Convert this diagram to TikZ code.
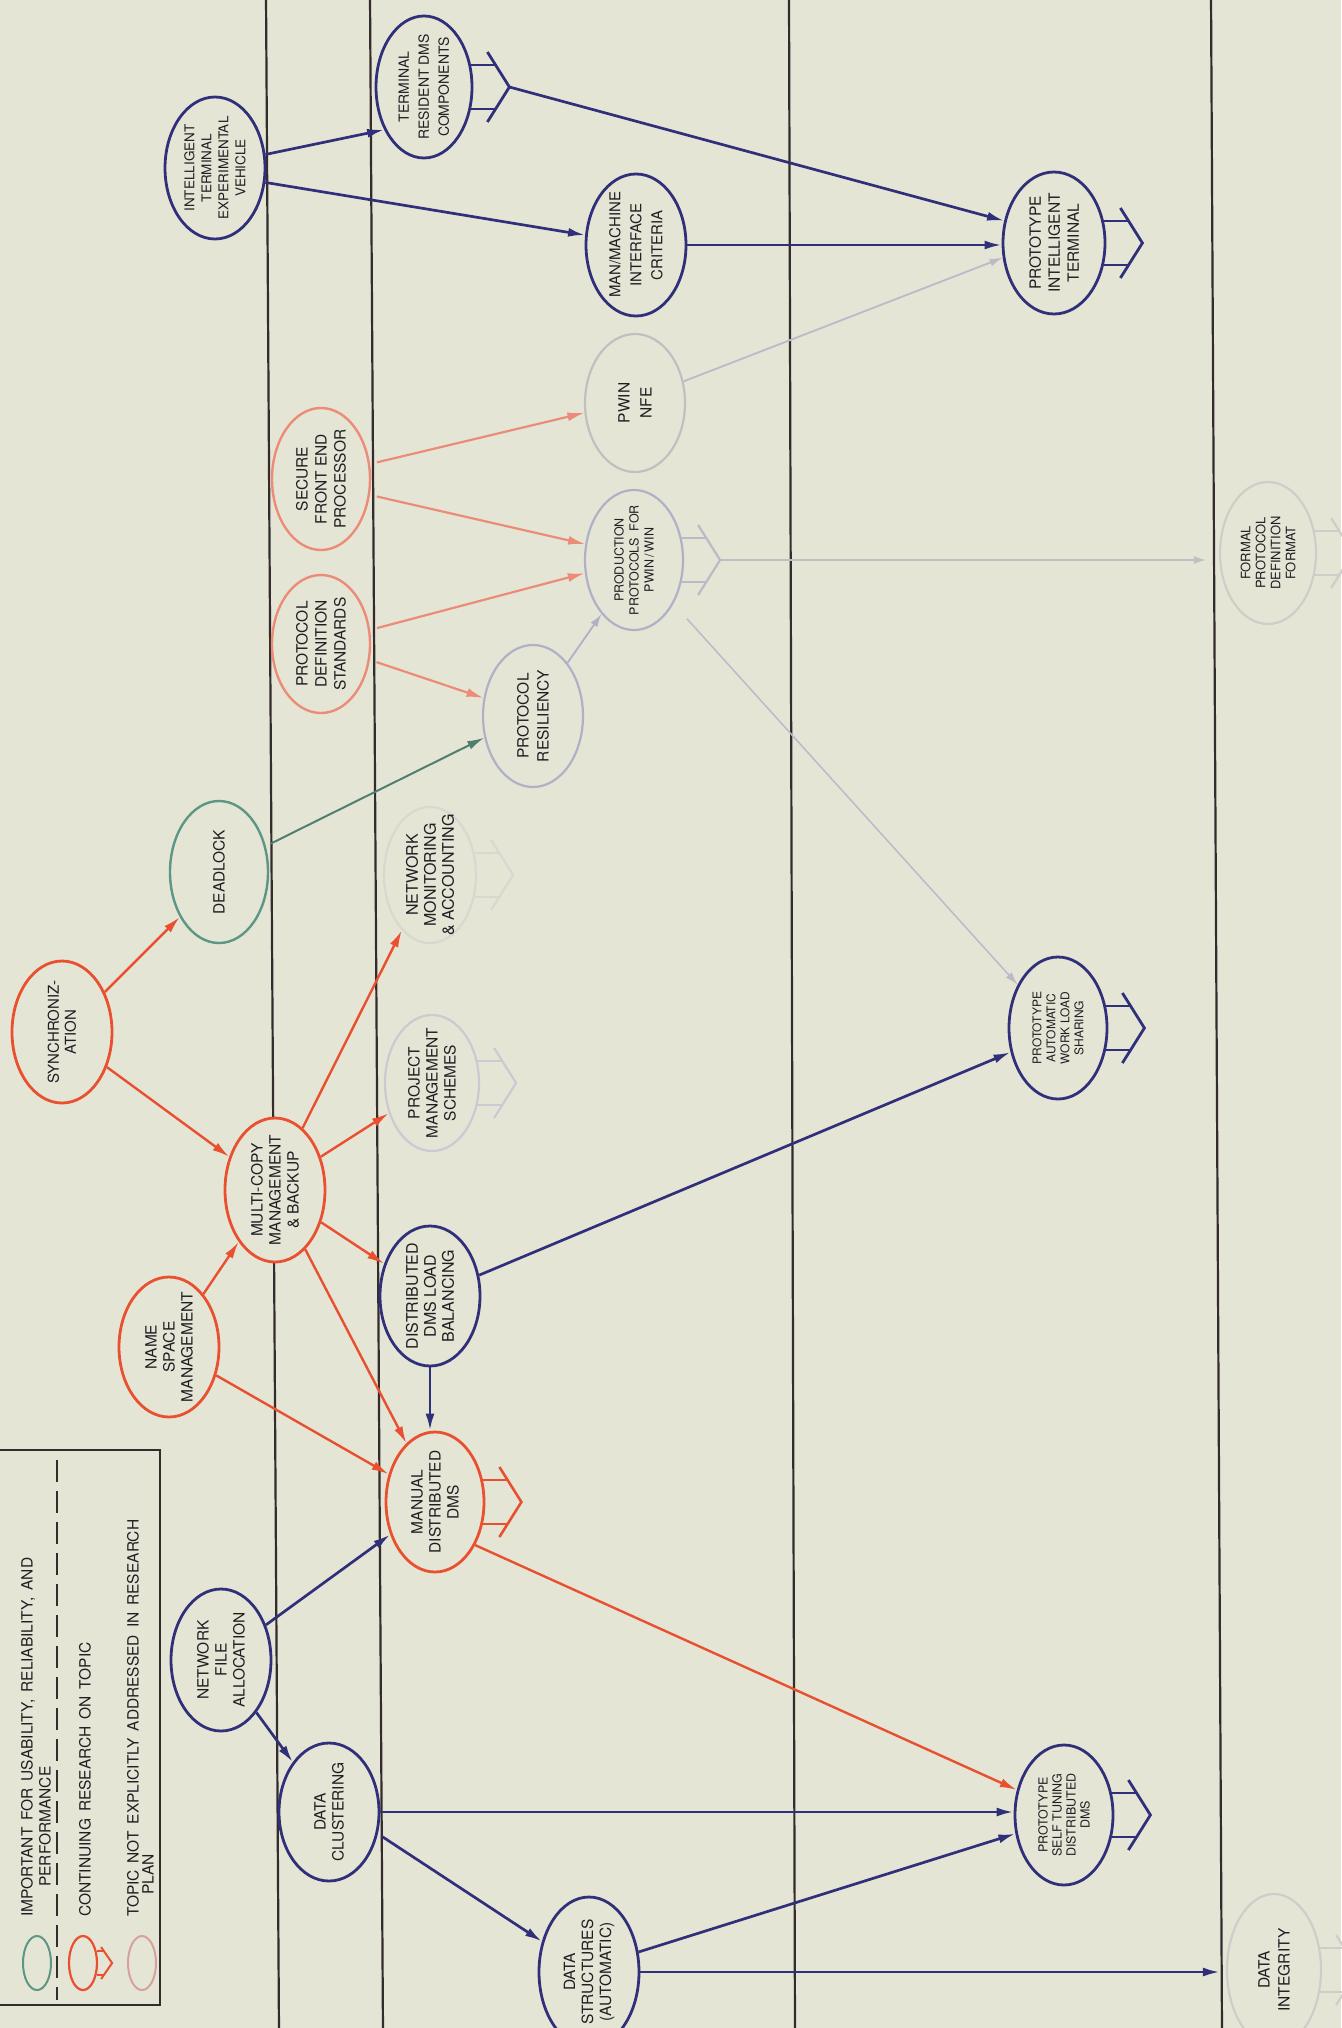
\documentclass[tikz,border=0pt]{standalone}
\usepackage{fontspec}
\setmainfont{TeX Gyre Heros}
\newfontfamily\legfont[WordSpace=1.6]{TeX Gyre Heros}
\usetikzlibrary{shapes.geometric, arrows.meta, calc}
\pgfdeclarelayer{back}
\pgfsetlayers{back,main}

\definecolor{paper}{RGB}{229,229,214}
\definecolor{rulecol}{RGB}{52,44,44}
\definecolor{ink}{RGB}{30,30,35}
\definecolor{navy}{RGB}{48,48,122}
\definecolor{vermil}{RGB}{232,80,48}
\definecolor{salmon}{RGB}{236,140,120}
\definecolor{dlgreen}{RGB}{92,150,132}
\definecolor{lav}{RGB}{176,176,198}
\definecolor{ghostA}{RGB}{192,192,194}
\definecolor{ghostB}{RGB}{206,206,200}
\definecolor{ghostC}{RGB}{216,216,208}
\definecolor{ghostD}{RGB}{202,202,210}
\definecolor{ghostline}{RGB}{186,186,200}
\definecolor{pinkleg}{RGB}{214,160,160}

\tikzset{
  topic/.style={ellipse, draw, line width=2.8pt, fill=paper, inner sep=0pt},
  lbl/.style={rotate=90, align=center, text=ink, inner sep=0pt,
    font=\fontsize{15.5}{19}\selectfont},
  legtext/.style={rotate=90, inner sep=0pt, text=ink,
    font=\legfont\fontsize{15.5}{18}\selectfont},
  arr/.style={line width=2.7pt, -{Latex[length=17pt,width=9pt]}},
  barr/.style={arr, navy},
  rarr/.style={arr, vermil, line width=2.4pt},
  parr/.style={arr, salmon, line width=2.2pt, shorten <=7pt},
  farr/.style={line width=1.8pt, ghostline, -{Latex[length=13pt,width=8pt]}},
  rulefirm/.style={rulecol, line width=2.2pt},
}

% an ellipse topic with its rotated caption
\newcommand\topic[7]{%
  \node[topic, minimum width=#3, minimum height=#4, #5] (#1) at #2 {};
  \node[lbl, #6] (#1-t) at (#1) {#7};
}
% the "continuing research" mark on the right of a topic
\newcommand\goon[2]{%
  \draw[#2, line join=miter] ($(#1.east)+(14,-35)$) -- ($(#1.east)+(36,0)$)
    coordinate (#1-tip) -- ($(#1.east)+(14,35)$);
  \draw[#2] ($(#1.east)+(-3,-22)$) -- ($(#1.east)+(22,-22)$);
  \draw[#2] ($(#1.east)+(-3,22)$) -- ($(#1.east)+(22,22)$);
}

\begin{document}
\begin{tikzpicture}[x=1pt, y=-1pt]
\useasboundingbox (0,0) rectangle (1341,2028);

% ---------------- topics ----------------
\topic{itev}{(215,168)}{100}{142}{draw=navy}{font=\fontsize{13.5}{17}\selectfont}{INTELLIGENT\\TERMINAL\\EXPERIMENTAL\\VEHICLE}
\topic{trdc}{(424,87)}{96}{142}{draw=navy}{font=\fontsize{14}{20}\selectfont}{TERMINAL\\RESIDENT DMS\\COMPONENTS}
\topic{mmic}{(636,245)}{100}{142}{draw=navy}{font=\fontsize{15}{21}\selectfont}{MAN/MACHINE\\INTERFACE\\CRITERIA}
\topic{pit}{(1054,243)}{102}{142}{draw=navy}{}{PROTOTYPE\\INTELLIGENT\\TERMINAL}
\topic{sfep}{(321,479)}{98}{142}{draw=salmon, line width=2.4pt}{}{SECURE\\FRONT END\\PROCESSOR}
\topic{pds}{(321,644)}{98}{138}{draw=salmon, line width=2.4pt}{}{PROTOCOL\\DEFINITION\\STANDARDS}
\topic{pwin}{(635,403)}{100}{138}{draw=ghostA, line width=2.2pt}{font=\fontsize{15.5}{22}\selectfont}{PWIN\\NFE}
\topic{pppw}{(634,560)}{98}{140}{draw=lav, line width=2.2pt}{font=\fontsize{12.5}{15}\selectfont}{PRODUCTION\\PROTOCOLS\ \ FOR\\PWIN\,/\,WIN}
\topic{pr}{(533,716)}{100}{142}{draw=lav, line width=2.2pt}{font=\fontsize{15.5}{20}\selectfont}{PROTOCOL\\RESILIENCY}
\topic{fpdf}{(1268,553)}{96}{142}{draw=ghostB, line width=2.2pt}{font=\fontsize{13}{15}\selectfont}{FORMAL\\PROTOCOL\\DEFINITION\\FORMAT}
\topic{dead}{(219,872)}{98}{142}{draw=dlgreen, line width=2.4pt}{}{DEADLOCK}
\topic{sync}{(62,1032)}{100}{142}{draw=vermil}{font=\fontsize{15}{17}\selectfont}{SYNCHRONIZ-\\ATION}
\topic{nma}{(430,875)}{92}{136}{draw=ghostC, line width=2.2pt}{font=\fontsize{16}{18}\selectfont}{NETWORK\\MONITORING\\\& ACCOUNTING}
\topic{pms}{(432,1083)}{94}{136}{draw=ghostD, line width=2.2pt}{font=\fontsize{15.5}{18}\selectfont}{PROJECT\\MANAGEMENT\\SCHEMES}
\topic{mcmb}{(275,1190)}{100}{144}{draw=vermil}{font=\fontsize{15.5}{18}\selectfont}{MULTI-COPY\\MANAGEMENT\\\& BACKUP}
\topic{nsm}{(169,1347)}{100}{140}{draw=vermil}{font=\fontsize{15.5}{18}\selectfont}{NAME\\SPACE\\MANAGEMENT}
\topic{ddlb}{(430,1296)}{100}{140}{draw=navy}{font=\fontsize{16}{18}\selectfont}{DISTRIBUTED\\DMS LOAD\\BALANCING}
\topic{mdd}{(435,1502)}{98}{140}{draw=vermil}{font=\fontsize{15.5}{18}\selectfont}{MANUAL\\DISTRIBUTED\\DMS}
\topic{pawls}{(1058,1028)}{98}{142}{draw=navy}{font=\fontsize{12}{14}\selectfont}{PROTOTYPE\\AUTOMATIC\\WORK LOAD\\SHARING}
\topic{nfa}{(221,1660)}{100}{142}{draw=navy}{font=\fontsize{15.5}{18}\selectfont}{NETWORK\\FILE\\ALLOCATION}
\topic{dc}{(329,1812)}{100}{138}{draw=navy}{font=\fontsize{15.5}{18}\selectfont}{DATA\\CLUSTERING}
\topic{ds}{(589,1972)}{100}{150}{draw=navy}{font=\fontsize{15.5}{18}\selectfont}{DATA\\STRUCTURES\\(AUTOMATIC)}
\topic{pstdd}{(1064,1815)}{98}{140}{draw=navy}{font=\fontsize{12.5}{14}\selectfont}{PROTOTYPE\\SELF TUNING\\DISTRIBUTED\\DMS}
\topic{di}{(1274,1970)}{94}{152}{draw=ghostB, line width=2.2pt}{font=\fontsize{15.5}{20}\selectfont}{DATA\\INTEGRITY}

% ---------------- continuing-research marks ----------------
\goon{trdc}{navy, line width=2.8pt}
\goon{pit}{navy, line width=2.8pt}
\goon{mdd}{vermil, line width=2.6pt}
\goon{pawls}{navy, line width=2.8pt}
\goon{pstdd}{navy, line width=2.8pt}
\goon{pppw}{ghostline, line width=2.2pt}
\goon{pms}{ghostD, line width=2.2pt}
\goon{nma}{ghostC, line width=2.2pt}
\goon{fpdf}{ghostB, line width=2.2pt}
\goon{di}{ghostB, line width=2.2pt}

% ---------------- connectors ----------------
\draw[barr] (itev.15) -- (trdc.227);
\draw[barr] (itev.344) -- (mmic.169);
\draw[barr] (trdc-tip) -- (pit.156);
\draw[barr] (mmic.east) -- (pit.west |- mmic.east);
\draw[farr] (pwin.24) -- (pit.196);

\draw[parr] (sfep.17) -- (pwin.191);
\draw[parr] (sfep.342) -- (pppw.162);
\draw[parr] (pds.16) -- (pppw.195);
\draw[parr] (pds.342) -- (pr.160);
\draw[farr, lav] (pr.57) -- (pppw.239);
\draw[arr, line width=2pt, dlgreen!85!black, shorten <=5pt] (dead.29) -- (pr.204);
\draw[farr, line width=1.5pt, shorten <=20pt] (pppw.312) -- (pawls.133);
\draw[farr, line width=2.4pt, ghostA, shorten >=12pt] (pppw-tip) -- (pppw-tip -| fpdf.west);

\draw[rarr] (sync.43) -- (dead.229);
\draw[rarr] (sync.322) -- (mcmb.144);
\draw[rarr] (mcmb.66) -- (nma.243);
\draw[rarr] (mcmb.36) -- (pms.215);
\draw[rarr] (nsm.57) -- (mcmb.235);
\draw[rarr] (mcmb.325) -- (ddlb.145);
\draw[rarr] (mcmb.297) -- (mdd.116);
\draw[rarr] (nsm.329) -- (mdd.149);
\draw[barr] (ddlb.23) -- (pawls.207);
\draw[barr] (ddlb.south) -- (ddlb.south |- mdd.north);

\draw[barr] (nfa.38) -- (mdd.216);
\draw[barr] (nfa.304) -- (dc.126);
\draw[barr] (dc.east) -- (pstdd.west |- dc.east);
\draw[barr, shorten <=4pt] (dc.336) -- (ds.147);
\draw[barr] (ds.22) -- (pstdd.201);
\draw[barr, shorten >=6pt] (ds.east) -- (di.west |- ds.east);
\draw[rarr] (mdd.313) -- (pstdd.152);

% ---------------- legend ----------------
\node[topic, minimum width=28, minimum height=54, draw=dlgreen, line width=2pt] (lgA) at (37,1963) {};
\node[topic, minimum width=28, minimum height=54, draw=vermil, line width=2.2pt] (lgB) at (83,1963) {};
\node[topic, minimum width=28, minimum height=54, draw=pinkleg, line width=2pt] (lgC) at (142,1963) {};
\draw[vermil, line width=2pt, line join=miter] ($(lgB.east)+(3,-16)$) -- ($(lgB.east)+(14,0)$) -- ($(lgB.east)+(3,16)$);
\draw[vermil, line width=2pt] ($(lgB.east)+(-1,-12)$) -- ($(lgB.east)+(6,-12)$);
\draw[vermil, line width=2pt] ($(lgB.east)+(-1,12)$) -- ($(lgB.east)+(6,12)$);
\node[legtext, anchor=west] (lg1) at (28,1917) {IMPORTANT FOR USABILITY, RELIABILITY, AND};
\node[legtext, anchor=west] (lg2) at (45,1887) {PERFORMANCE};
\node[legtext, anchor=west] (lg3) at (85,1917) {CONTINUING RESEARCH ON TOPIC};
\node[legtext, anchor=west] (lg4) at (133,1917) {TOPIC NOT EXPLICITLY ADDRESSED IN RESEARCH};
\node[legtext, anchor=west] (lg5) at (148,1895) {PLAN};

% ---------------- paper, column rules and legend frame ----------------
\begin{pgfonlayer}{back}
  \fill[paper] (0,0) rectangle (1341,2028);
  \coordinate (c1a) at (266,-5);  \coordinate (c1b) at (279,2033);
  \coordinate (c2a) at (370,-5);  \coordinate (c2b) at (383,2033);
  \coordinate (c3a) at (789,-5);  \coordinate (c3b) at (795,2033);
  \coordinate (c4a) at (1211,-5); \coordinate (c4b) at (1222,2033);
  \draw[rulefirm] (c1a) -- (c1b);
  \draw[rulefirm] (c2a) -- (c2b);
  \draw[rulefirm] (c3a) -- (c3b);
  \draw[rulefirm] (c4a) -- (c4b);
  \coordinate (fr1) at (-5,1450); \coordinate (fr2) at (160,1450);
  \coordinate (fr3) at (160,2005); \coordinate (fr4) at (-5,2005);
  \fill[paper] (fr1) rectangle (fr3);
  \draw[rulecol, line width=2.8pt] (fr1) -- (fr2) -- (fr3) -- (fr4);
  \coordinate (dl1) at (57,1460); \coordinate (dl2) at (57,2000);
  \draw[rulecol, line width=2.2pt, dash pattern=on 22pt off 9pt] (dl1) -- (dl2);
\end{pgfonlayer}
\end{tikzpicture}
\end{document}
